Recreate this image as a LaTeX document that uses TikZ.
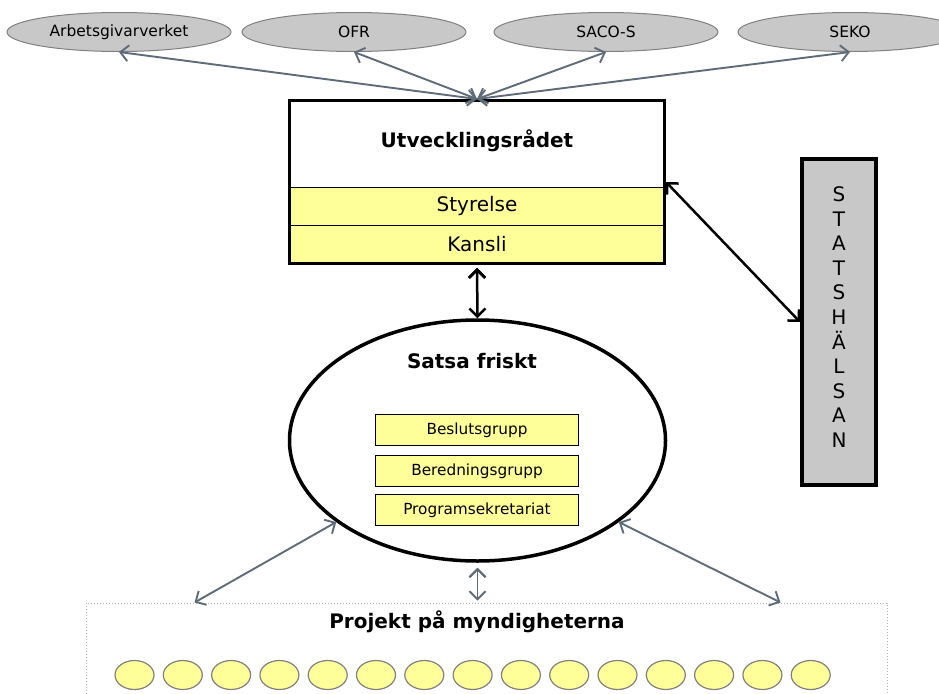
\documentclass[tikz,border=0pt]{standalone}
\usepackage{fontspec}
\setmainfont{DejaVu Sans}
\usetikzlibrary{arrows.meta,shapes.geometric,positioning}

\definecolor{partgray}{RGB}{200,200,200}
\definecolor{linkgray}{RGB}{95,107,120}
\definecolor{paleyellow}{RGB}{255,255,153}

\begin{document}
\begin{tikzpicture}[x=1pt,y=-1pt,
  party/.style={ellipse,draw=gray,line width=1pt,fill=partgray,minimum width=224pt,minimum height=39pt,inner sep=0pt,font=\fontsize{15.5}{18}\selectfont},
  band/.style={rectangle,draw=black,fill=paleyellow,minimum width=376pt,inner sep=0pt,font=\fontsize{20}{24}\selectfont},
  group/.style={rectangle,draw=black,line width=1pt,fill=paleyellow,minimum width=203pt,minimum height=31pt,inner sep=0pt,font=\fontsize{15.3}{18}\selectfont},
  heading/.style={font=\fontsize{20}{24}\selectfont\bfseries},
  project/.style={ellipse,draw=gray,line width=1.2pt,fill=paleyellow,minimum width=39pt,minimum height=29pt,inner sep=0pt},
  link/.style={draw=linkgray,line width=1.9pt,{Straight Barb[length=8pt,width=16pt]}-{Straight Barb[length=8pt,width=16pt]}},
  duty/.style={draw=black,line width=2.5pt,{Straight Barb[length=8pt,width=16pt]}-{Straight Barb[length=8pt,width=16pt]}}]
  \useasboundingbox (0,0) rectangle (939,693);
  \clip (0,0) rectangle (939,693);

  % parterna
  \node[party] (arb)  at (119,32) {Arbetsgivarverket};
  \node[party] (ofr)  at (354,32) {OFR};
  \node[party] (saco) at (606,32) {SACO-S};
  \node[party] (seko) at (850,32) {SEKO};

  % utvecklingsradet
  \node[band,minimum height=38pt] (styr) at (477,206) {Styrelse};
  \node[band,minimum height=39pt] (kans) at (477,244.5) {Kansli};
  \node[draw,line width=3pt,minimum width=375pt,minimum height=163pt,inner sep=0pt] (utv) at (477,182) {};
  \node[heading] (utvtitle) at (477,141) {Utvecklingsrådet};

  % statshalsan
  \node[draw,line width=4pt,fill=partgray,minimum width=74pt,minimum height=326pt,inner sep=0pt] (stats) at (839,322) {};
  \node[align=center,font=\fontsize{20}{24.6}\selectfont] (statstext) at (839,317)
    {S\\T\\A\\T\\S\\H\\Ä\\L\\S\\A\\N};

  % satsa friskt
  \node[ellipse,draw,line width=3.5pt,minimum width=376pt,minimum height=241pt,inner sep=0pt] (sf) at (477.5,440.5) {};
  \node[heading] (sftitle) at (472,361) {Satsa friskt};
  \node[group] (besl) at (477,430) {Beslutsgrupp};
  \node[group] (bere) at (477,471) {Beredningsgrupp};
  \node[group] (prog) at (477,510) {Programsekretariat};

  % projekten
  \node[draw=gray!60,dotted,line width=1pt,minimum width=801pt,minimum height=120pt,inner sep=0pt] (proj) at (486.5,663) {};
  \node[heading] (projtitle) at (477,622) {Projekt på myndigheterna};
  \foreach \i in {0,...,14}
    \node[project] (p\i) at (134.5+48.3*\i,675) {};

  \path[link]
    (arb.south)  edge (utv.north)
    (ofr.south)  edge (utv.north)
    (saco.south) edge (utv.north)
    (seko.south) edge (utv.north)
    (sf.210) edge ([xshift=109pt]proj.north west)
    (sf.330) edge ([xshift=-107pt]proj.north east)
    ([yshift=-5pt]sf.south) edge ([yshift=2pt]sf.south |- proj.north);
  \path[duty]
    (utv.east) edge (stats.west)
    ([yshift=-3pt]utv.south) edge (sf.north);
\end{tikzpicture}
\end{document}
